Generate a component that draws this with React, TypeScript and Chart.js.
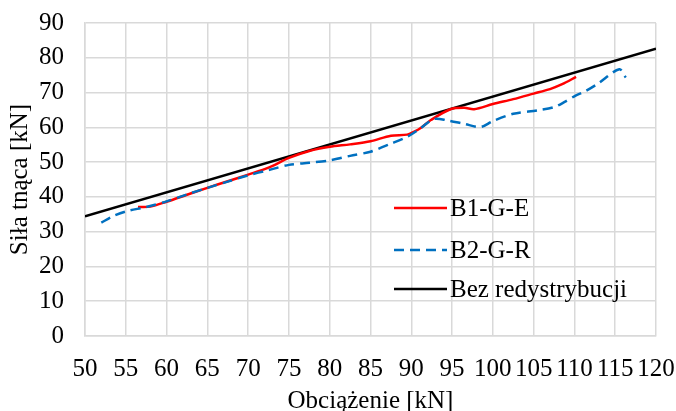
import React, { useEffect, useRef } from "react";
import { Chart, registerables } from "chart.js";

Chart.register(...registerables);

const xTitle = "Obciążenie [kN]";
const yTitle = "Siła tnąca [kN]";

const b1Labels = "B1-G-E";
const b2Labels = "B2-G-R";
const refLabel = "Bez redystrybucji";

const b1X = [56.5, 58, 60, 62.5, 65, 67.5, 70, 72.5, 75, 77.5, 80, 82.5, 85, 87.5, 89.5, 90.3, 91.2, 92.4, 94.8, 96.5, 97.7, 100, 102.5, 105, 107, 108.5, 110.2];
const b1Y = [37.1, 37.2, 38.6, 40.6, 42.6, 44.5, 46.4, 48.4, 51.2, 53.2, 54.4, 55.1, 56.0, 57.6, 57.9, 58.7, 59.9, 62.1, 65.2, 65.6, 65.2, 66.7, 68.1, 69.7, 71.0, 72.4, 74.5];

const b2X = [52, 53.5, 55, 57.5, 60, 62.5, 65, 67.5, 70, 72.5, 75, 77.5, 80, 82.5, 85, 87.5, 89.5, 91, 92.8, 94.4, 96.5, 98.5, 100, 102.5, 105.5, 107.5, 108.8, 110.2, 111.2, 112.9, 115.5, 116.3];
const b2Y = [32.6, 34.5, 35.8, 37.1, 38.7, 40.7, 42.6, 44.4, 46.2, 47.7, 49.2, 49.8, 50.5, 51.8, 53.0, 55.3, 57.3, 59.5, 62.4, 62.0, 61.0, 60.1, 61.8, 63.9, 64.9, 65.8, 67.3, 69.2, 70.2, 72.6, 76.7, 74.3];

const refX = [50, 120];
const refY = [34.4, 82.6];

const xMin = 50, xMax = 120, xStep = 5;
const yMin = 0, yMax = 90, yStep = 10;

const FONT = "'Liberation Serif', 'Times New Roman', serif";
const FS = 25;

const toPts = (xs: number[], ys: number[]) => xs.map((x, i) => ({ x, y: ys[i] }));

const legendPlugin = {
  id: "insideLegend",
  afterDraw(chart: any) {
    const ctx = chart.ctx;
    const items = [0, 1, 2].map((i) => chart.data.datasets[i]);
    const x0 = 394, x1 = 447, tx = 450;
    const ys = [208, 250, 289];
    ctx.save();
    items.forEach((ds: any, i: number) => {
      ctx.beginPath();
      ctx.strokeStyle = ds.borderColor;
      ctx.lineWidth = ds.borderWidth;
      ctx.setLineDash(ds.borderDash || []);
      ctx.moveTo(x0, ys[i]);
      ctx.lineTo(x1, ys[i]);
      ctx.stroke();
      ctx.setLineDash([]);
      ctx.fillStyle = "#000";
      ctx.font = `${FS}px ${FONT}`;
      ctx.textBaseline = "middle";
      ctx.textAlign = "left";
      ctx.fillText(ds.label, tx, ys[i] + 1);
    });
    ctx.restore();
  },
};

export default function App() {
  const ref = useRef<HTMLCanvasElement>(null);
  useEffect(() => {
    document.body.style.margin = "0";
    const chart = new Chart(ref.current!, {
      type: "line",
      data: {
        datasets: [
          {
            label: b1Labels,
            data: toPts(b1X, b1Y),
            borderColor: "#ff0000",
            borderWidth: 2.5,
            pointRadius: 0,
            tension: 0.3,
            order: 1,
          },
          {
            label: b2Labels,
            data: toPts(b2X, b2Y),
            borderColor: "#0070c0",
            borderWidth: 2.5,
            borderDash: [10, 6],
            pointRadius: 0,
            tension: 0.3,
            order: 0,
          },
          {
            label: refLabel,
            data: toPts(refX, refY),
            borderColor: "#000000",
            borderWidth: 2.5,
            pointRadius: 0,
            order: 2,
          },
        ],
      },
      options: {
        animation: false,
        responsive: false,
        maintainAspectRatio: false,
        layout: { padding: { top: 23, right: 20, left: 0, bottom: 0 } },
        plugins: { legend: { display: false }, tooltip: { enabled: false } },
        scales: {
          x: {
            type: "linear",
            min: xMin,
            max: xMax,
            afterFit: (s: any) => { s.height = 75; s.paddingRight = 0; s.paddingLeft = 0; },
            ticks: {
              stepSize: xStep,
              autoSkip: false,
              maxRotation: 0,
              padding: 18,
              color: "#000",
              font: { family: FONT, size: FS },
            },
            grid: { color: "#d9d9d9", lineWidth: 1.5, drawTicks: false },
            border: { color: "#d9d9d9", width: 1.5 },
            title: {
              display: true,
              text: xTitle,
              color: "#000",
              font: { family: FONT, size: FS },
              padding: { top: 0, bottom: -5 },
            },
          },
          y: {
            type: "linear",
            min: yMin,
            max: yMax,
            afterFit: (s: any) => { s.width = 85; s.paddingTop = 0; },
            ticks: {
              stepSize: yStep,
              padding: 21,
              color: "#000",
              font: { family: FONT, size: FS },
            },
            grid: { color: "#d9d9d9", lineWidth: 1.5, drawTicks: false },
            border: { color: "#d9d9d9", width: 1.5 },
            title: {
              display: true,
              text: yTitle,
              color: "#000",
              font: { family: FONT, size: FS },
              padding: { top: 5, bottom: 0 },
            },
          },
        },
      },
      plugins: [legendPlugin],
    });
    return () => chart.destroy();
  }, []);
  return <canvas ref={ref} width={676} height={411} style={{ display: "block" }} />;
}
